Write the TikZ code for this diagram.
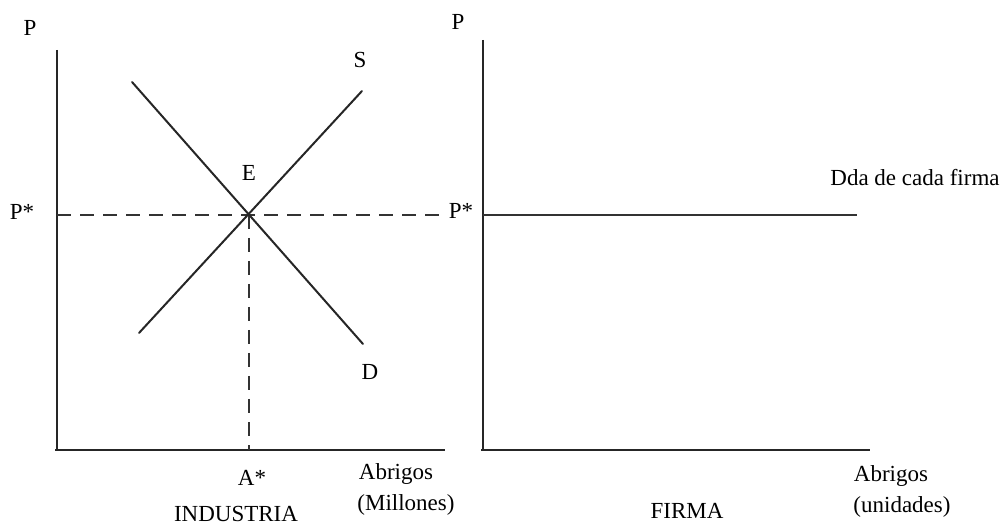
\documentclass[tikz,border=0pt]{standalone}
\usepackage{fontspec}
\setmainfont{Liberation Serif}
\begin{document}
\begin{tikzpicture}[x=1pt,y=-1pt,
  lbl/.style={inner sep=0pt,font=\fontsize{23}{25}\selectfont},
  axisline/.style={line width=2.5pt,black!85},
  curveline/.style={line width=2pt,black!85},
  guide/.style={line width=1.6pt,black!80,dash pattern=on 14pt off 9pt},
  flat/.style={line width=1.7pt,black!80}]
\useasboundingbox (0,0) rectangle (1004,526);
% left panel
\coordinate (LT) at (57,50);
\coordinate (LO) at (57,450);
\coordinate (LX0) at (55,450);
\coordinate (LX) at (445,450);
\coordinate (E0) at (249,215);
\coordinate (Dtop) at (132,82);
\coordinate (Dbot) at (363,344);
\coordinate (Sbot) at (139,333);
\coordinate (Stop) at (362,91);
\coordinate (PL) at (57,215);
\coordinate (PR) at (446,215);
\coordinate (AB) at (249,450);
\draw[axisline] (LT) -- (LO);
\draw[axisline] (LX0) -- (LX);
\draw[guide] (PL) -- (PR);
\draw[guide] (E0) -- (AB);
\draw[curveline,line cap=round] (Dtop) -- (Dbot);
\draw[curveline,line cap=round] (Sbot) -- (Stop);
\node[lbl] (pl) at (30,28) {P};
\node[lbl] (pstarl) at (22,212) {P*};
\node[lbl] (s) at (360,60) {S};
\node[lbl] (e) at (249,173) {E};
\node[lbl] (d) at (370,372) {D};
\node[lbl] (astar) at (252,478) {A*};
\node[lbl] (abl) at (396,474) {Abrigos};
\node[lbl] (mill) at (406,505) {(Millones)};
\node[lbl] (ind) at (236,514) {INDUSTRIA};
% right panel
\coordinate (RT) at (483,40);
\coordinate (RO) at (483,450);
\coordinate (RX0) at (481,450);
\coordinate (RX) at (870,450);
\coordinate (RP) at (483,215);
\coordinate (RPE) at (857,215);
\draw[axisline] (RT) -- (RO);
\draw[axisline] (RX0) -- (RX);
\draw[flat] (RP) -- (RPE);
\node[lbl] (pr) at (458,22) {P};
\node[lbl] (pstarr) at (461,211) {P*};
\node[lbl] (dda) at (915,178) {Dda de cada firma};
\node[lbl] (abr) at (891,476) {Abrigos};
\node[lbl] (unid) at (902,507) {(unidades)};
\node[lbl] (firma) at (687,511) {FIRMA};
\end{tikzpicture}
\end{document}
